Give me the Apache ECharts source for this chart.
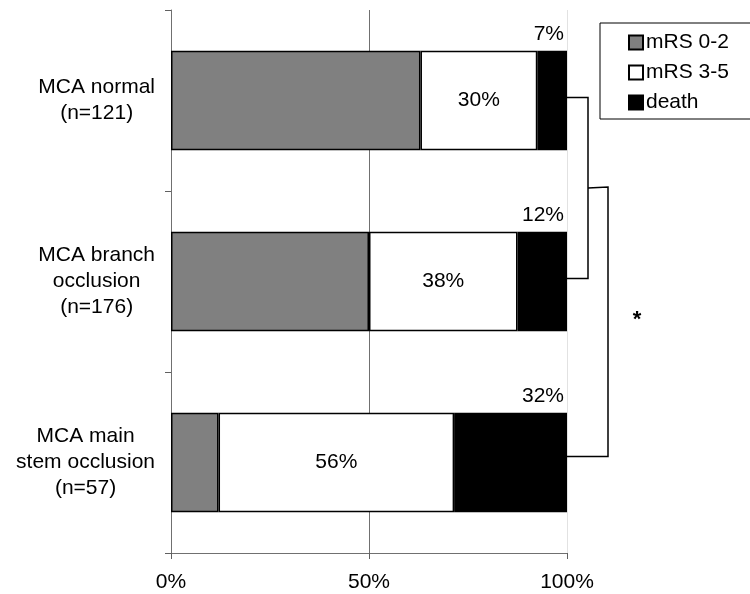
<!DOCTYPE html>
<html>
<head>
<meta charset="utf-8">
<script src="https://cdn.jsdelivr.net/npm/echarts@6/dist/echarts.min.js"></script>
<style>html,body{margin:0;padding:0;background:#fff;}#c{width:750px;height:594px;}</style>
</head>
<body>
<div id="c"></div>
<script>
var categories = ['MCA normal\n(n=121)', 'MCA branch\nocclusion\n(n=176)', 'MCA main\nstem occlusion\n(n=57)'];
var seriesNames = ['mRS 0-2', 'mRS 3-5', 'death'];
var mrs02 = [63, 50, 12];
var mrs35 = [29.5, 37.5, 59.5];
var death = [7.5, 12.5, 28.5];
var mrs35Labels = ['30%', '38%', '56%'];
var deathLabels = ['7%', '12%', '32%'];
var xTicks = [0, 50, 100];

var FONT = "'Liberation Sans', Arial, sans-serif";
var FS = 21;
var chart = echarts.init(document.getElementById('c'), null, {renderer: 'canvas'});
var border = {borderColor: '#000', borderWidth: 1.5};

var option = {
  animation: false,
  backgroundColor: '#fff',
  textStyle: {fontFamily: FONT},
  grid: {left: 171, right: 183, top: 10, bottom: 41, containLabel: false},
  legend: {
    orient: 'vertical',
    left: 600, top: 23,
    padding: [9, 40, 6, 28],
    borderColor: '#000', borderWidth: 1,
    itemWidth: 14, itemHeight: 14, itemGap: 9,
    selectedMode: false,
    icon: 'rect',
    textStyle: {fontFamily: FONT, fontSize: FS, color: '#000', lineHeight: 21, padding: [0, 0, 0, -2]},
    data: seriesNames
  },
  xAxis: {
    type: 'value', min: 0, max: 100, interval: 50,
    axisLine: {show: true, lineStyle: {color: '#707070', width: 1}},
    axisTick: {show: true, length: 6, lineStyle: {color: '#606060'}},
    axisLabel: {formatter: function (v) { return xTicks.indexOf(v) >= 0 ? v + '%' : ''; }, fontSize: FS, fontFamily: FONT, color: '#000', margin: 19},
    splitLine: {show: true, lineStyle: {color: ['#707070', '#707070', '#e2e2e2'], width: 1}}
  },
  yAxis: {
    type: 'category', inverse: true, data: categories,
    axisLine: {show: true, lineStyle: {color: '#707070', width: 1}},
    axisTick: {show: true, length: 6, lineStyle: {color: '#606060'}},
    axisLabel: {
      margin: 16, color: '#000',
      formatter: function (v) { return v.split('\n').map(function (l) { return '{c|' + l + '}'; }).join('\n'); },
      rich: {c: {align: 'center', fontSize: FS, lineHeight: 26, fontFamily: FONT, color: '#000'}}
    }
  },
  series: [
    {name: seriesNames[0], type: 'bar', stack: 's', barWidth: '55%', data: mrs02,
     itemStyle: Object.assign({color: '#808080'}, border)},
    {name: seriesNames[1], type: 'bar', stack: 's', barWidth: '55%', data: mrs35,
     itemStyle: Object.assign({color: '#ffffff'}, border),
     label: {show: true, position: 'inside', fontSize: FS, fontFamily: FONT, color: '#000',
             formatter: function (p) { return mrs35Labels[p.dataIndex]; }}},
    {name: seriesNames[2], type: 'bar', stack: 's', barWidth: '55%', data: death,
     itemStyle: Object.assign({color: '#000000'}, border),
     label: {show: true, position: ['100%', 0], align: 'right', verticalAlign: 'bottom', offset: [-3, -6],
             fontSize: FS, fontFamily: FONT, color: '#000',
             formatter: function (p) { return deathLabels[p.dataIndex]; }}}
  ]
};
chart.setOption(option);

// significance brackets, positioned through the axes
function px(v, c) { return chart.convertToPixel({gridIndex: 0}, [v, categories[c]]); }
var p0 = px(100, 0), p1 = px(100, 1), p2 = px(100, 2);
var x0 = p0[0];
var y0 = p0[1] - 3, y1 = p1[1] - 3, y2 = p2[1] - 6;
var xb1 = x0 + 21, xb2 = x0 + 41;
var ym = (y0 + y1) / 2;
chart.setOption({
  graphic: [
    {type: 'polyline', shape: {points: [[x0, y0], [xb1, y0], [xb1, y1], [x0, y1]]}, style: {stroke: '#000', lineWidth: 1.5, fill: null}},
    {type: 'polyline', shape: {points: [[xb1, ym], [xb2, ym - 1], [xb2, y2], [x0, y2]]}, style: {stroke: '#000', lineWidth: 1.5, fill: null}},
    {type: 'text', x: xb2 + 29, y: (ym + y2) / 2 - 2, style: {text: '*', font: 'bold 22px ' + FONT, fill: '#000', align: 'center', verticalAlign: 'middle'}}
  ]
});
</script>
</body>
</html>
